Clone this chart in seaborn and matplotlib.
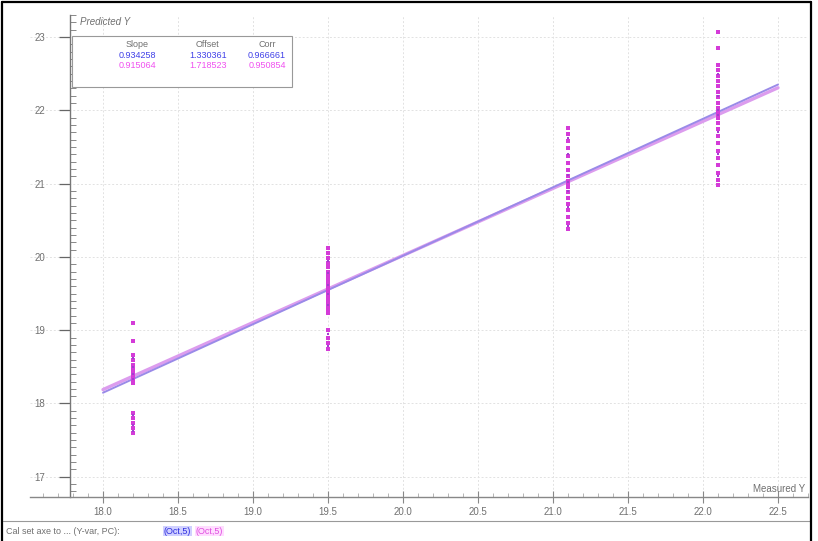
import numpy as np
import pandas as pd
import matplotlib
matplotlib.use("Agg")
import matplotlib.pyplot as plt
import seaborn as sns
from matplotlib.lines import Line2D
from matplotlib.patches import Rectangle
from matplotlib.ticker import MultipleLocator

# ---------------- data ----------------
measured_levels = [18.2, 19.5, 21.1, 22.1]

cal_pred = [
    [19.10, 18.85, 18.66, 18.59, 18.52, 18.47, 18.43, 18.40, 18.37, 18.34, 18.30, 18.28,
     17.87, 17.80, 17.73, 17.66, 17.60],
    [20.12, 20.05, 19.98, 19.92, 19.86, 19.80, 19.75, 19.70, 19.65, 19.60, 19.56, 19.52,
     19.47, 19.42, 19.37, 19.32, 19.27, 19.23, 19.00, 18.90, 18.82, 18.74],
    [21.76, 21.67, 21.58, 21.48, 21.38, 21.28, 21.18, 21.10, 21.03, 21.00, 20.95, 20.88,
     20.80, 20.72, 20.64, 20.55, 20.46, 20.38],
    [23.07, 22.85, 22.62, 22.55, 22.47, 22.40, 22.33, 22.25, 22.18, 22.10, 22.03, 21.98,
     21.95, 21.90, 21.83, 21.75, 21.65, 21.55, 21.45, 21.35, 21.25, 21.15, 21.05, 20.98],
]
val_pred = [
    [18.62, 18.50, 18.40, 18.33, 17.84, 17.70, 17.62],
    [19.95, 19.78, 19.62, 19.50, 19.35, 18.95, 18.78],
    [21.62, 21.40, 21.12, 21.02, 20.90, 20.68, 20.42],
    [22.50, 22.20, 22.00, 21.93, 21.70, 21.40, 21.10],
]

fit_labels = ["Slope", "Offset", "Corr"]
fit_cal = [0.934258, 1.330361, 0.966661]
fit_val = [0.915064, 1.718523, 0.950854]
line_x_range = [18.0, 22.5]

x_ticks = [18.0, 18.5, 19.0, 19.5, 20.0, 20.5, 21.0, 21.5, 22.0, 22.5]
y_ticks = [17, 18, 19, 20, 21, 22, 23]

# ---------------- layout helpers ----------------
W, H = 818, 541
def fx(px): return px / W
def fy(py): return 1 - py / H

x0_px, x_ppu = 103, 150.0
y0_px, y_ppu = 37, 73.3
ax_left, ax_right, ax_top, ax_bottom = 30, 808, 15, 497
xlim = (18 + (ax_left - x0_px) / x_ppu, 18 + (ax_right - x0_px) / x_ppu)
ylim = (23 - (ax_bottom - y0_px) / y_ppu, 23 - (ax_top - y0_px) / y_ppu)

sns.set_theme(style="white")
plt.rcParams['font.family'] = ['Liberation Sans', 'DejaVu Sans']

fig = plt.figure(figsize=(W / 100, H / 100), dpi=100)
ax = fig.add_axes([fx(ax_left), fy(ax_bottom), fx(ax_right) - fx(ax_left), fy(ax_top) - fy(ax_bottom)])
ax.set_xlim(*xlim)
ax.set_ylim(*ylim)
ax.set_facecolor("white")

rows = []
for xm, vals in zip(measured_levels, cal_pred):
    for v in vals:
        rows.append(("Cal", xm, v))
for xm, vals in zip(measured_levels, val_pred):
    for v in vals:
        rows.append(("Val", xm, v))
df = pd.DataFrame(rows, columns=["set", "measured", "predicted"])

# grid
for xt in x_ticks:
    ax.axvline(xt, color="#e2e2e2", lw=0.7, ls=(0, (2, 2)), zorder=0)
for yt in y_ticks:
    ax.axhline(yt, color="#e2e2e2", lw=0.7, ls=(0, (2, 2)), zorder=0)

# regression lines
lx = np.array(line_x_range)
lines = pd.DataFrame({
    "x": np.concatenate([lx, lx]),
    "y": np.concatenate([fit_val[0] * lx + fit_val[1], fit_cal[0] * lx + fit_cal[1]]),
    "set": ["Val", "Val", "Cal", "Cal"],
})
sns.lineplot(data=lines[lines.set == "Val"], x="x", y="y", color="#dc9cee", lw=2.4, ax=ax,
             legend=False, zorder=2)
sns.lineplot(data=lines[lines.set == "Cal"], x="x", y="y", color="#9a8ae8", lw=1.4, ax=ax,
             legend=False, zorder=3)

# points
sns.scatterplot(data=df[df.set == "Cal"], x="measured", y="predicted", color="#d43bd8",
                marker="s", s=5, linewidth=0, ax=ax, legend=False, zorder=4)
sns.scatterplot(data=df[df.set == "Val"], x="measured", y="predicted", color="#a040d0",
                marker="s", s=4, linewidth=0, ax=ax, legend=False, zorder=5)

# ---------------- axes styling ----------------
for s in ["top", "right"]:
    ax.spines[s].set_visible(False)
ax.spines["left"].set_position(("data", xlim[0] + 40 / x_ppu))
ax.spines["left"].set_color("#777777")
ax.spines["bottom"].set_color("#888888")
ax.spines["left"].set_linewidth(1.0)
ax.spines["bottom"].set_linewidth(1.0)

ax.set_xticks(x_ticks)
ax.set_xticklabels([f"{v:.1f}" for v in x_ticks])
ax.set_yticks(y_ticks)
ax.set_yticklabels([str(v) for v in y_ticks])
ax.xaxis.set_minor_locator(MultipleLocator(0.1))
ax.yaxis.set_minor_locator(MultipleLocator(0.1))
ax.tick_params(axis="y", which="major", direction="out", length=8, width=0.9, color="#666666",
               labelsize=7, labelcolor="#707070", pad=10, left=True)
ax.tick_params(axis="y", which="minor", direction="in", length=4, width=0.7, color="#888888", left=True)
ax.tick_params(axis="x", which="major", direction="inout", length=8, width=0.8, color="#888888",
               labelsize=7, labelcolor="#707070", pad=3, bottom=True)
ax.tick_params(axis="x", which="minor", direction="in", length=3, width=0.6, color="#aaaaaa", bottom=True)
ax.set_xlabel("")
ax.set_ylabel("")

fig.text(fx(80), fy(22), "Predicted Y", fontsize=7, style="italic", color="#707070", va="center")
fig.text(fx(805), fy(489), "Measured Y", fontsize=7, color="#707070", va="center", ha="right")

# ---------------- fit table ----------------
fig.add_artist(Rectangle((fx(72), fy(87)), fx(292) - fx(72), fy(36) - fy(87),
                         transform=fig.transFigure, facecolor="white", edgecolor="#999999",
                         lw=0.8, zorder=6))
col_x = [137, 208, 267]
for cx, lab in zip(col_x, fit_labels):
    fig.text(fx(cx), fy(45), lab, fontsize=6.5, color="#707070", ha="center", va="center", zorder=7)
for cx, v in zip(col_x, fit_cal):
    fig.text(fx(cx), fy(55), f"{v:.6f}", fontsize=6.5, color="#4040e8", ha="center", va="center", zorder=7)
for cx, v in zip(col_x, fit_val):
    fig.text(fx(cx), fy(65), f"{v:.6f}", fontsize=6.5, color="#f050f0", ha="center", va="center", zorder=7)

# ---------------- bottom status bar ----------------
fig.add_artist(Line2D([fx(3), fx(811)], [fy(521), fy(521)], transform=fig.transFigure,
                      color="#999999", lw=0.8))
fig.text(fx(6), fy(531), "Cal set axe to ... (Y-var, PC):", fontsize=6.5, color="#707070", va="center")
fig.text(fx(164), fy(531), "(Oct,5)", fontsize=6.5, color="#3030e0", va="center",
         bbox=dict(boxstyle="square,pad=0.1", fc="#d0d0ff", ec="none"))
fig.text(fx(196), fy(531), "(Oct,5)", fontsize=6.5, color="#e050e0", va="center",
         bbox=dict(boxstyle="square,pad=0.1", fc="#ffdcff", ec="none"))

# figure frame
fig.add_artist(Line2D([fx(2), fx(2)], [fy(2), 0], transform=fig.transFigure, color="black", lw=1.6))
fig.add_artist(Line2D([fx(2), fx(811)], [fy(2), fy(2)], transform=fig.transFigure, color="black", lw=1.6))
fig.add_artist(Line2D([fx(811), fx(811)], [fy(2), 0], transform=fig.transFigure, color="black", lw=1.6))

fig.savefig("out.png", dpi=100)
